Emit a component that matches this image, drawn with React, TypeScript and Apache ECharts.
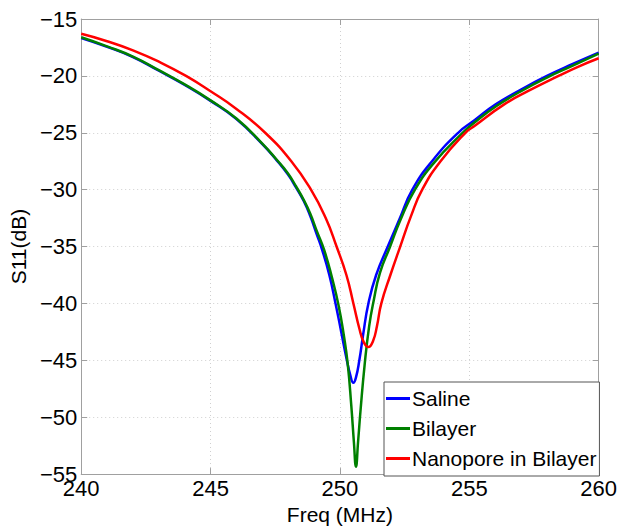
import React, { useEffect, useRef } from "react";
import * as echarts from "echarts";

const xTicks = [240, 245, 250, 255, 260];
const yTicks = [-55, -50, -45, -40, -35, -30, -25, -20, -15];

const salineFreq = [240, 241, 242, 243, 244, 245, 246, 247, 247.55, 248, 248.3, 248.6, 248.85, 249.1, 249.3, 249.59, 249.83, 250.05, 250.25, 250.4, 250.52, 250.62, 250.75, 250.9, 251.1, 251.4, 251.85, 252.3, 252.8, 253.56, 254.57, 255.2, 256.02, 257, 258, 259, 260];
const salineS11 = [-16.68, -17.45, -18.35, -19.55, -20.8, -22.2, -23.8, -26.0, -27.4, -28.7, -29.8, -31.0, -32.3, -33.9, -35.2, -37.5, -40, -42.5, -44.8, -46.3, -46.97, -46.5, -45, -42.7, -40, -37.5, -35, -32.6, -30, -27.5, -25, -23.9, -22.5, -21.2, -20, -18.95, -17.95];

const bilayerFreq = [240, 241, 242, 243, 244, 245, 246, 247, 247.55, 248, 248.3, 248.6, 248.85, 249.1, 249.39, 249.7, 249.95, 250.15, 250.3, 250.44, 250.54, 250.62, 250.7, 250.8, 250.95, 251.13, 251.3, 251.55, 251.94, 252.35, 252.9, 253.65, 254.7, 255.2, 256.05, 257, 258, 259, 260];
const bilayerS11 = [-16.6, -17.4, -18.3, -19.5, -20.75, -22.15, -23.75, -25.95, -27.35, -28.6, -29.7, -30.9, -32.1, -33.6, -35.3, -37.8, -40.2, -42.8, -45.3, -49, -52.2, -54.35, -52.2, -49.3, -45.5, -42, -39.8, -37.3, -35, -32.6, -30, -27.6, -25.1, -24.1, -22.65, -21.35, -20.15, -19.1, -18.05];

const nanoporeFreq = [240, 241, 242, 243, 244.05, 245, 246, 247.11, 248.12, 248.88, 249.45, 249.87, 250.25, 250.52, 250.75, 250.92, 251.1, 251.28, 251.43, 251.6, 251.95, 252.33, 252.75, 253.18, 253.89, 254.85, 255.2, 256.35, 257.3, 258.45, 259.2, 260];
const nanoporeS11 = [-16.3, -16.95, -17.75, -18.75, -20, -21.35, -22.9, -25, -27.5, -30, -32.5, -35, -37.5, -40, -42.2, -43.4, -43.83, -43.3, -42, -40, -37.5, -35, -32.3, -30, -27.5, -25, -24.4, -22.5, -21.3, -20, -19.2, -18.45];

const seriesNames = ["Saline", "Bilayer", "Nanopore in Bilayer"];
const seriesColors = ["#0000ff", "#008000", "#ff0000"];

const FONT = "'Liberation Sans', Arial, sans-serif";

const pairs = (xs: number[], ys: number[]) => xs.map((x, i) => [x, ys[i]]);

const fmtNum = (v: number) => (v < 0 ? "\u2212" + Math.abs(v) : String(v));

export default function App() {
  const ref = useRef<HTMLDivElement>(null);
  useEffect(() => {
    if (!ref.current) return;
    const chart = echarts.init(ref.current, undefined, { renderer: "svg" });
    const axisLineStyle = { color: "#a0a0a0", width: 1 };
    const gridLine = { show: true, lineStyle: { color: "#d0d0d0", type: [1, 3] as any, width: 1 } };
    const xMin = xTicks[0];
    const xMax = xTicks[xTicks.length - 1];
    const yMin = yTicks[0];
    const yMax = yTicks[yTicks.length - 1];
    const data = [
      pairs(salineFreq, salineS11),
      pairs(bilayerFreq, bilayerS11),
      pairs(nanoporeFreq, nanoporeS11),
    ];
    chart.setOption({
      animation: false,
      backgroundColor: "#ffffff",
      textStyle: { fontFamily: FONT },
      grid: { left: 76, right: 17, top: 19, bottom: 52, containLabel: false },
      xAxis: [
        {
          type: "value",
          min: xMin,
          max: xMax,
          interval: 5,
          name: "Freq (MHz)",
          nameLocation: "middle",
          nameGap: 27,
          nameTextStyle: { fontFamily: FONT, fontSize: 21, color: "#000" },
          axisLine: { show: true, lineStyle: axisLineStyle },
          axisTick: { show: true, inside: true, length: 6, lineStyle: axisLineStyle },
          axisLabel: { fontFamily: FONT, fontSize: 22, color: "#000", margin: 3, formatter: (v: number) => fmtNum(v) },
          splitLine: gridLine,
        },
        {
          type: "value",
          position: "top",
          min: xMin,
          max: xMax,
          interval: 5,
          axisLine: { show: true, lineStyle: axisLineStyle },
          axisTick: { show: true, inside: true, length: 6, lineStyle: axisLineStyle },
          axisLabel: { show: false },
          splitLine: { show: false },
        },
      ],
      yAxis: [
        {
          type: "value",
          min: yMin,
          max: yMax,
          interval: 5,
          name: "S11(dB)",
          nameLocation: "middle",
          nameGap: 52,
          nameRotate: 90,
          nameTextStyle: { fontFamily: FONT, fontSize: 21, color: "#000" },
          axisLine: { show: true, lineStyle: axisLineStyle },
          axisTick: { show: true, inside: true, length: 6, lineStyle: axisLineStyle },
          axisLabel: { fontFamily: FONT, fontSize: 22, color: "#000", margin: 4, formatter: (v: number) => fmtNum(v) },
          splitLine: gridLine,
        },
        {
          type: "value",
          position: "right",
          min: yMin,
          max: yMax,
          interval: 5,
          axisLine: { show: true, lineStyle: axisLineStyle },
          axisTick: { show: true, inside: true, length: 6, lineStyle: axisLineStyle },
          axisLabel: { show: false },
          splitLine: { show: false },
        },
      ],
      legend: {
        orient: "vertical",
        left: 384,
        top: 382,
        padding: [6, 3, 7, 2],
        itemGap: 9,
        itemWidth: 24,
        itemHeight: 3,
        icon: "rect",
        backgroundColor: "#ffffff",
        borderColor: "#555555",
        borderWidth: 1,
        borderRadius: 0,
        textStyle: { fontFamily: FONT, fontSize: 21, color: "#000", padding: [0, 0, 0, -3] },
        data: seriesNames,
      },
      series: data.map((d, i) => ({
        name: seriesNames[i],
        type: "line",
        data: d,
        xAxisIndex: 0,
        yAxisIndex: 0,
        symbol: "none",
        smooth: 0.5,
        color: seriesColors[i],
        lineStyle: { color: seriesColors[i], width: 2.5 },
        z: 2 + i,
      })),
    });
    return () => chart.dispose();
  }, []);
  return (
    <div
      ref={ref}
      style={{ position: "fixed", left: 0, top: 0, width: 620, height: 530, background: "#fff" }}
    />
  );
}
